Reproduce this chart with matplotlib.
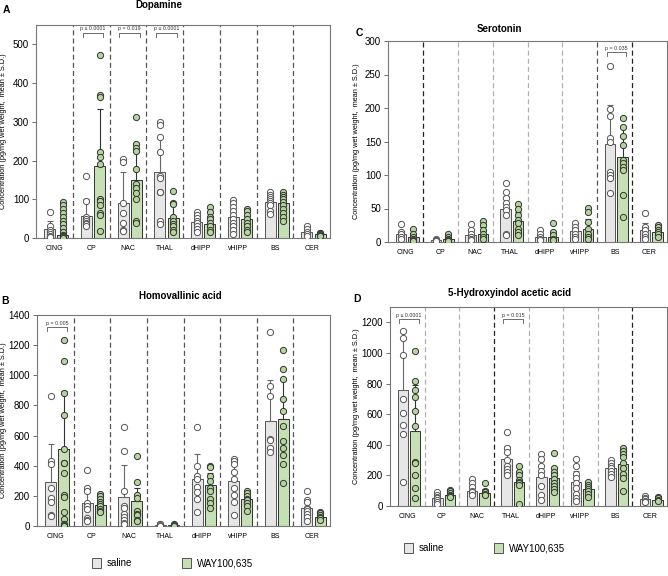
import numpy as np
import matplotlib
matplotlib.use("Agg")
import matplotlib.pyplot as plt
from matplotlib.patches import Patch

plt.rcParams['font.family'] = ['Liberation Sans', 'DejaVu Sans']

regions = ["CING", "CP", "NAC", "THAL", "dHIPP", "vHIPP", "BS", "CER"]

# Dopamine
da_sal_mean = [23, 57, 90, 171, 42, 55, 92, 16]
da_sal_top = [43, 100, 170, 262, 60, 80, 108, 25]
da_way_mean = [8, 187, 150, 52, 37, 50, 90, 10]
da_way_top = [20, 333, 230, 88, 57, 68, 110, 14]
da_sal_pts = [[68, 30, 20, 15, 10, 5, 3],
              [160, 95, 55, 50, 45, 40, 35, 30],
              [205, 197, 90, 65, 40, 20, 18],
              [300, 292, 262, 222, 160, 155, 120, 118, 45, 35],
              [68, 60, 52, 45, 38, 30, 22, 15],
              [97, 90, 80, 70, 60, 50, 40, 30, 20, 10],
              [118, 110, 105, 100, 95, 90, 85, 70, 62],
              [32, 22, 15, 10, 5]]
da_way_pts = [[92, 85, 75, 65, 55, 45, 35, 25, 15, 8, 5, 2, 1],
              [472, 368, 365, 222, 210, 190, 100, 95, 85, 65, 60, 18],
              [312, 242, 232, 225, 178, 140, 130, 115, 100, 45, 40],
              [122, 90, 88, 55, 45, 35, 30, 20, 15],
              [80, 68, 55, 48, 40, 30, 20, 15],
              [75, 70, 60, 50, 40, 30, 20, 15],
              [120, 112, 105, 100, 92, 85, 75, 65, 55, 45],
              [14, 12, 10, 8, 6]]

# Homovallinic acid
hva_sal_mean = [292, 150, 190, 8, 315, 300, 700, 118]
hva_sal_top = [543, 250, 408, 8, 480, 420, 970, 160]
hva_way_mean = [508, 140, 165, 5, 270, 180, 710, 60]
hva_way_top = [895, 190, 250, 5, 350, 225, 970, 85]
hva_sal_pts = [[865, 430, 410, 250, 185, 160, 75, 65],
               [370, 250, 230, 150, 130, 110, 50, 40, 30],
               [655, 500, 235, 135, 120, 80, 60, 40, 20, 10],
               [15, 10, 5, 3],
               [660, 395, 335, 310, 260, 225, 180, 90],
               [445, 430, 410, 355, 310, 250, 205, 160, 75],
               [1290, 930, 860, 580, 570, 520, 490],
               [235, 175, 160, 120, 110, 100, 80, 60, 35]]
hva_way_pts = [[1235, 1095, 885, 735, 510, 420, 415, 350, 205, 195, 90, 45, 10, 5, 3],
               [210, 200, 180, 160, 145, 130, 110, 100, 90],
               [465, 295, 205, 185, 100, 80, 70, 40, 30],
               [10, 5, 3],
               [400, 390, 330, 300, 250, 230, 180, 150, 120],
               [230, 220, 200, 180, 170, 155, 135, 100],
               [1165, 1045, 975, 845, 765, 665, 565, 520, 470, 410, 285],
               [95, 85, 75, 60, 50, 40]]

# Serotonin
ht_sal_mean = [12, 3, 11, 50, 8, 16, 146, 18]
ht_sal_top = [17, 4, 18, 68, 12, 22, 204, 28]
ht_way_mean = [8, 5, 12, 32, 8, 20, 127, 15]
ht_way_top = [13, 8, 22, 45, 12, 34, 172, 22]
ht_sal_pts = [[27, 15, 12, 8, 5],
              [4, 3, 2, 2],
              [27, 18, 12, 8, 5, 3],
              [88, 75, 65, 58, 52, 48, 40, 12, 10],
              [18, 12, 8, 5, 3],
              [28, 22, 18, 12, 8, 4],
              [262, 198, 188, 155, 150, 105, 100, 95, 73],
              [44, 22, 18, 12, 8, 5]]
ht_way_pts = [[20, 12, 8, 5, 3, 2],
              [12, 8, 5, 3, 1],
              [32, 25, 18, 12, 8, 4],
              [57, 50, 40, 33, 28, 20, 15, 10],
              [28, 15, 10, 5, 3],
              [51, 45, 30, 20, 12, 8, 5],
              [185, 172, 158, 145, 122, 118, 112, 108, 70, 38],
              [25, 22, 18, 15, 12, 8]]

# 5-Hydroxyindol acetic acid
hiaa_sal_mean = [755, 55, 100, 305, 190, 155, 245, 45]
hiaa_sal_top = [1138, 75, 135, 395, 270, 230, 270, 60]
hiaa_way_mean = [490, 70, 85, 160, 185, 110, 275, 40]
hiaa_way_top = [790, 95, 110, 215, 250, 145, 345, 55]
hiaa_sal_pts = [[1140, 1100, 985, 700, 610, 530, 470, 160],
                [90, 75, 60, 50, 40, 25, 10],
                [175, 150, 125, 100, 90, 70],
                [485, 380, 350, 300, 260, 240, 220, 205],
                [340, 310, 260, 230, 200, 130, 70, 40],
                [305, 260, 210, 180, 150, 120, 80, 50, 30],
                [300, 280, 260, 250, 230, 210, 190],
                [65, 55, 45, 35, 25]]
hiaa_way_pts = [[1010, 815, 760, 715, 620, 520, 290, 280, 205, 120, 50],
                [105, 95, 85, 75, 65, 60],
                [150, 100, 90, 80, 75],
                [260, 225, 200, 170, 155, 150, 140, 10],
                [345, 250, 225, 200, 175, 150, 130, 110, 90],
                [155, 140, 125, 110, 95, 80, 60],
                [380, 360, 340, 320, 280, 250, 210, 180, 100],
                [60, 50, 40, 30]]

SAL_C = '#e6e6e6'
WAY_C = '#c5e0b4'
DK = '#555555'
LT = '#b0b0b0'

fig = plt.figure(figsize=(6.68, 5.76), dpi=100)


def panel(rect, title, letter, title_xy, letter_xy, ymax, yticks,
          sal_mean, sal_top, way_mean, way_top, sal_pts, way_pts,
          sep_colors, sigs, sig_y, ylab_x):
    ax = fig.add_axes(rect)
    n = len(regions)
    idx = np.arange(n)
    xs = idx + 0.37
    xw = idx + 0.73
    w = 0.3
    ax.bar(xs, sal_mean, w, color=SAL_C, edgecolor='#555555', linewidth=0.7, zorder=2)
    ax.bar(xw, way_mean, w, color=WAY_C, edgecolor='#333333', linewidth=0.7, zorder=2)
    ax.errorbar(xs, sal_mean, yerr=[np.zeros(n), np.array(sal_top) - np.array(sal_mean)],
                fmt='none', ecolor='#666666', elinewidth=0.8, capsize=2.5, capthick=0.8, zorder=3)
    ax.errorbar(xw, way_mean, yerr=[np.zeros(n), np.array(way_top) - np.array(way_mean)],
                fmt='none', ecolor='#333333', elinewidth=0.8, capsize=2.5, capthick=0.8, zorder=3)
    for i in range(n):
        ax.scatter([xs[i]] * len(sal_pts[i]), sal_pts[i], s=20, facecolor='white',
                   edgecolor='#555555', linewidth=0.7, zorder=4)
        ax.scatter([xw[i]] * len(way_pts[i]), way_pts[i], s=20, facecolor='#b3d69c',
                   edgecolor='#333333', linewidth=0.7, zorder=4)
    for k in range(1, n):
        ax.axvline(k, color=sep_colors[k - 1], linestyle=(0, (4, 2.5)), linewidth=0.9, zorder=1)
    for i, txt in sigs:
        h = ymax * 0.02
        ax.plot([xs[i] - 0.1, xs[i] - 0.1, xw[i] + 0.1, xw[i] + 0.1],
                [sig_y - h, sig_y, sig_y, sig_y - h], color='#555555', linewidth=0.6)
        ax.text((xs[i] + xw[i]) / 2, sig_y + ymax * 0.006, txt, ha='center', va='bottom',
                fontsize=3.8, color='#333333')
    ax.set_xlim(0, n)
    ax.set_ylim(0, ymax)
    ax.set_yticks(yticks)
    ax.set_xticks(idx + 0.5)
    ax.set_xticklabels(regions, fontsize=5)
    ax.tick_params(axis='x', length=0, pad=5)
    ax.tick_params(axis='y', labelsize=7, length=3, width=0.6, color='#555555', pad=2)
    for s in ax.spines.values():
        s.set_color('#777777')
        s.set_linewidth(0.8)
    ax.set_ylabel('Concentration (pg/mg wet weight,  mean ± S.D.)', fontsize=5.3)
    ax.yaxis.set_label_coords(ylab_x, 0.5)
    fig.text(title_xy[0] / 668, 1 - title_xy[1] / 576, title, ha='center', va='center',
             fontsize=7, fontweight='bold')
    fig.text(letter_xy[0] / 668, 1 - letter_xy[1] / 576, letter, ha='center', va='center',
             fontsize=7.5, fontweight='bold')
    return ax


panel([36 / 668, 1 - 238 / 576, 294 / 668, 213 / 576], 'Dopamine', 'A', (159, 5), (6, 10),
      550, [0, 100, 200, 300, 400, 500],
      da_sal_mean, da_sal_top, da_way_mean, da_way_top, da_sal_pts, da_way_pts,
      [DK] * 7, [(1, 'p ≤ 0.0001'), (2, 'p = 0.019'), (3, 'p ≤ 0.0001')], 530, -0.1)

panel([37 / 668, 1 - 526 / 576, 293 / 668, 211 / 576], 'Homovallinic acid', 'B', (180, 296), (5, 301),
      1400, [0, 200, 400, 600, 800, 1000, 1200, 1400],
      hva_sal_mean, hva_sal_top, hva_way_mean, hva_way_top, hva_sal_pts, hva_way_pts,
      [DK] * 7, [(0, 'p = 0.005')], 1320, -0.102)

panel([388 / 668, 1 - 242 / 576, 279 / 668, 201 / 576], 'Serotonin', 'C', (499, 29), (359, 33),
      300, [0, 50, 100, 150, 200, 250, 300],
      ht_sal_mean, ht_sal_top, ht_way_mean, ht_way_top, ht_sal_pts, ht_way_pts,
      ['#222222', LT, LT, LT, LT, DK, '#222222'], [(6, 'p = 0.035')], 283, -0.1)

panel([390 / 668, 1 - 506 / 576, 277 / 668, 199 / 576], '5-Hydroxyindol acetic acid', 'D', (510, 293), (357, 299),
      1300, [0, 200, 400, 600, 800, 1000, 1200],
      hiaa_sal_mean, hiaa_sal_top, hiaa_way_mean, hiaa_way_top, hiaa_sal_pts, hiaa_way_pts,
      [LT, LT, '#222222', LT, LT, LT, '#222222'], [(0, 'p ≤ 0.0001'), (3, 'p = 0.015')], 1222, -0.108)


def legend_at(x, y):
    handles = [Patch(facecolor=SAL_C, edgecolor='#555555', linewidth=0.7, label='saline'),
               Patch(facecolor=WAY_C, edgecolor='#555555', linewidth=0.7, label='WAY100,635')]
    fig.legend(handles=handles, loc='center left', bbox_to_anchor=(x / 668, 1 - y / 576), ncol=2,
               frameon=False, fontsize=7, handlelength=0.95, handleheight=1.2, columnspacing=5.1,
               handletextpad=0.6, borderpad=0, borderaxespad=0)


legend_at(92, 563)
legend_at(404, 548)

fig.savefig('out.png', dpi=100)
